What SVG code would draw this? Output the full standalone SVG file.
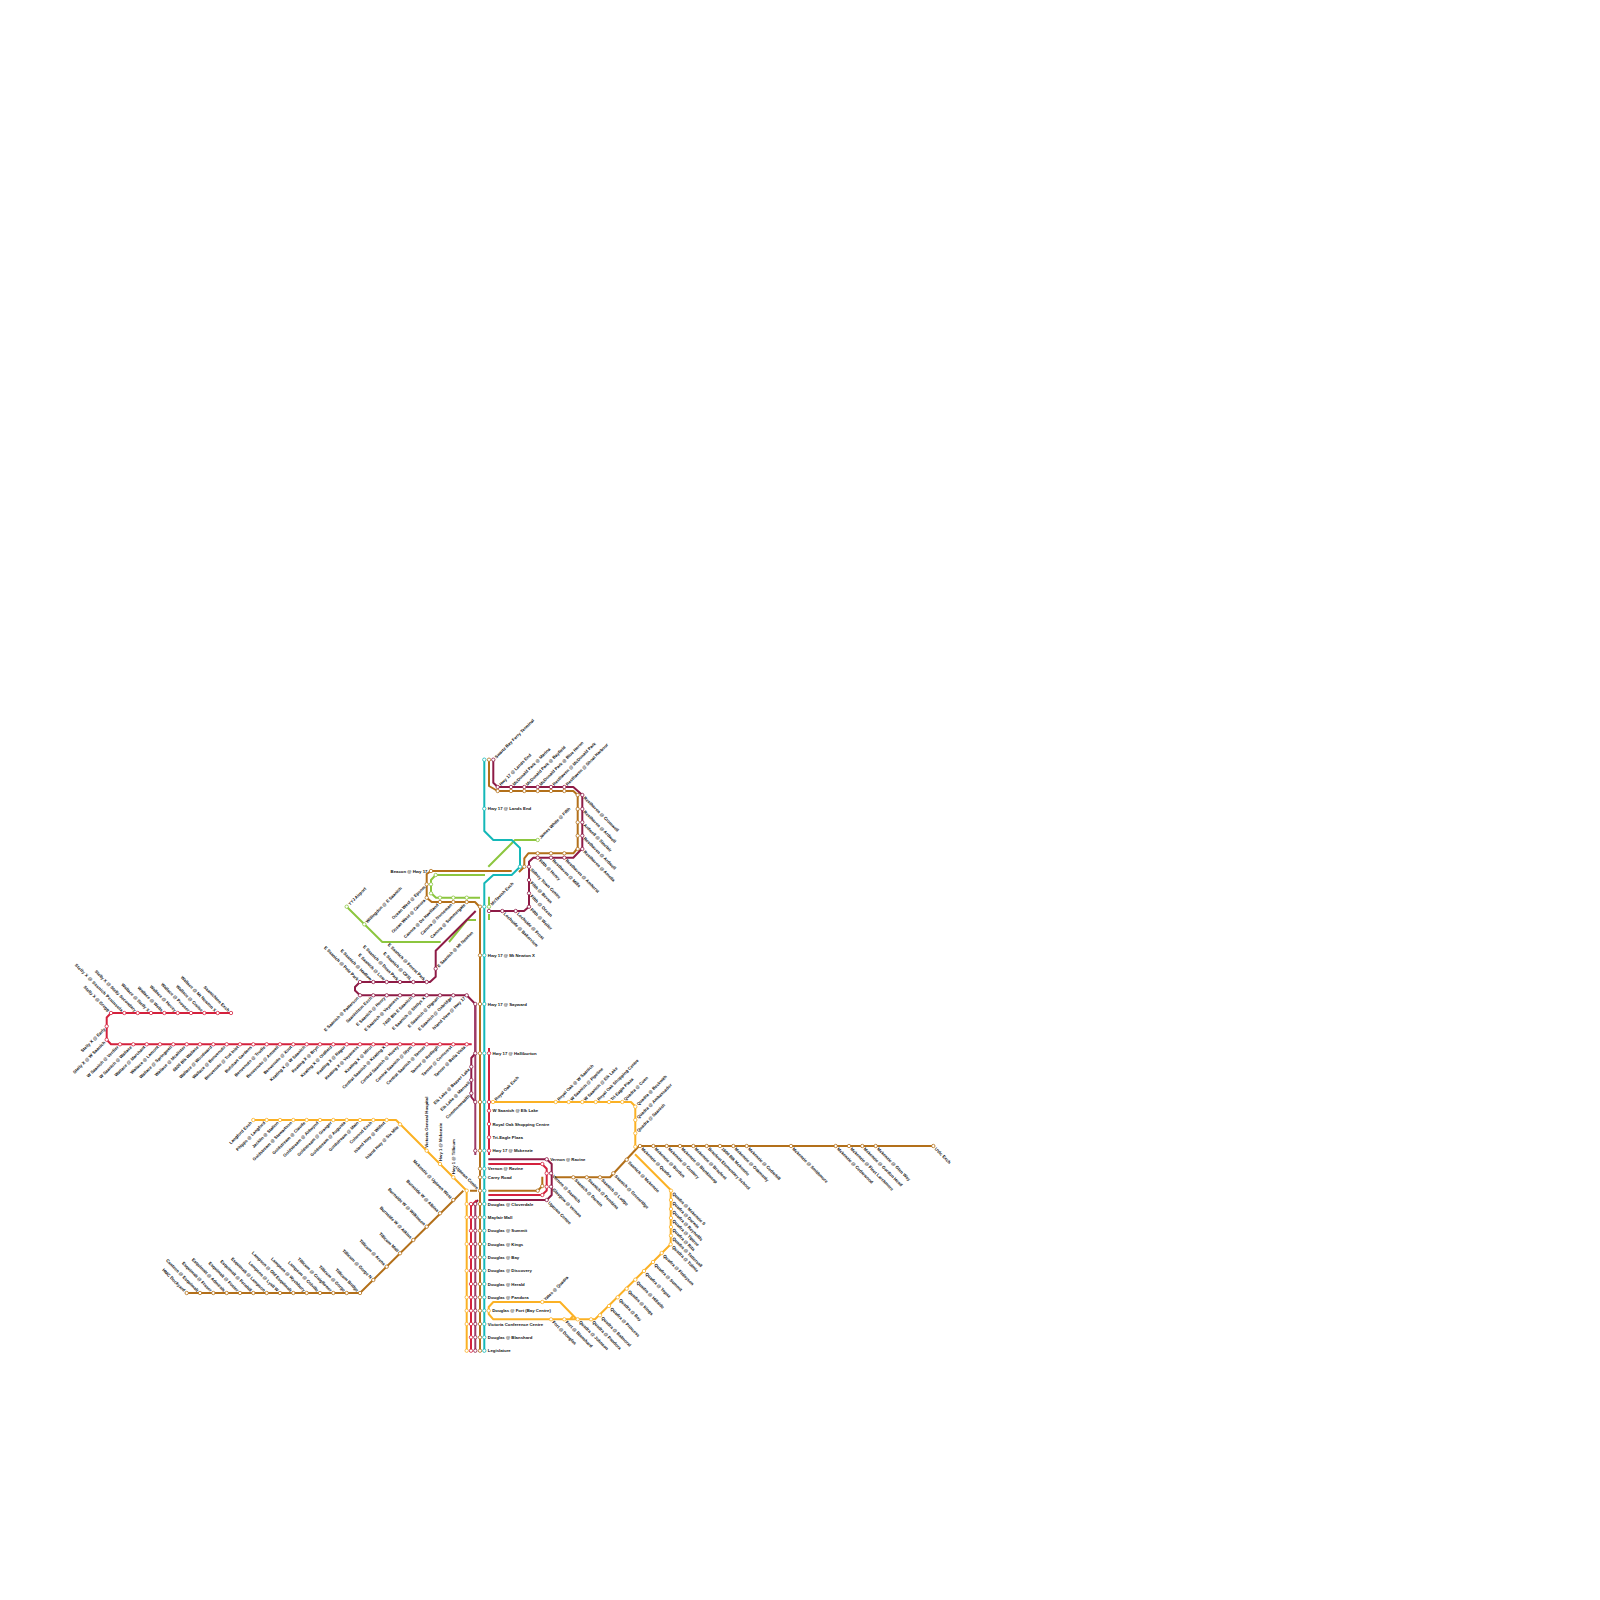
<svg xmlns="http://www.w3.org/2000/svg" width="1600" height="1600" viewBox="0 0 1600 1600">
<style>
text{font:bold 4.3px "Liberation Sans",Arial,sans-serif;fill:#111;dominant-baseline:central}
.dl{text-anchor:end;transform:rotate(-45deg) translateX(-3px)}
.ul{text-anchor:end;transform:rotate(45deg) translateX(-3px)}
.ur{transform:rotate(-45deg) translateX(3px)}
.dr{transform:rotate(45deg) translateX(3px)}
.h{transform:translateX(3.5px)}
.hl{text-anchor:end;transform:translateX(-3.5px)}
.v{transform:rotate(-90deg) translateX(3px)}
circle{r:1.7px;fill:#fff;stroke-width:.8}
path{fill:none;stroke-width:2;stroke-linejoin:round}
.R{stroke:#d4213d}.D{stroke:#8e1b46}.M{stroke:#9e3a66}.B{stroke:#b3701a}.T{stroke:#14b8b8}.Y{stroke:#fbb124}.G{stroke:#8cc63f}
</style>
<rect width="1600" height="1600" fill="#fff"/>
<g id="connectors">
<path class="G" d="M346.7 906.7L382.3 942H440.7M449 942L467 920H476M488.3 866.7L515 840H537.7M485 875H435.7L431 880V893L436 897.7H480M489 896.7V908M489 914V920"/>
<path class="R" d="M231 1013H111L106.7 1017.5V1039.7L111 1044.3H471.7"/>
<path class="D" d="M475.7 911L435.7 950.7V976.7L430 982H360L355 987V990.5L360 995.3H466.7L475.3 1004V1053.3L471.3 1058V1097L475.3 1102"/>
<path class="M" d="M475.3 1004V1155M475.3 1350.7V1203"/>
<path class="D" d="M475.3 1203L478 1200"/>
<path class="D" d="M493.3 759.7V782.7L497.7 787H573.3L582.3 795V848.3L573.3 857.7H533.3L529 861.7V906.7L524 911H489"/>
<path class="D" d="M488.3 1159.3H546.7L551.7 1164V1195L546.7 1200H488.3"/>
<path class="R" d="M488.3 1164H542L546.7 1168.7V1190.5L542 1195H488.3M489 1048V1155M471 1350.7V1206L476.5 1200.5"/>
<path class="B" d="M489 759.7V786L497.7 791H573.3L577.7 795V848L573.3 853.3H528.3L524.3 858.3V866.7L519 872M511.7 871H431L426.7 874V897.7L431.7 902H475L480 907.3V1350.7M470 1190.7H477M463.3 1190.7L360 1293H186.7M488.3 1190.7H537.7L542.3 1186V1176.7M555 1177.3H610L639 1146H933.3"/>
<path class="Y" d="M253.3 1120H396L466.7 1190.7V1350.7M493 1102H631L635.3 1106.5V1146.7M635 1154.3L670.7 1190V1244.3L595 1319.3H493.3L488.7 1314V1307L493.3 1302H560L576.7 1319.3M570 1319.3L574 1315"/>
<path class="T" d="M484.3 759.7V831L493.3 840H511.7L520 848V866.7L511.7 875H493.3L484.3 883.3V1350.7"/>
</g>
<g id="n1" transform="translate(111 1013)"><circle class="R"/><text class="ul">Stelly X @ Gregg</text></g>
<g id="n2" transform="translate(124.3 1013)"><circle class="R"/><text class="ul" textLength="66">Stelly X @ Saanich Peninsula</text></g>
<g id="n3" transform="translate(137.7 1013)"><circle class="R"/><text class="ul">Stelly X @ Stelly Secondary</text></g>
<g id="n4" transform="translate(151 1013)"><circle class="R"/><text class="ul">Wallace @ Stelly X</text></g>
<g id="n5" transform="translate(164.3 1013)"><circle class="R"/><text class="ul">Wallace @ Wells</text></g>
<g id="n6" transform="translate(177.7 1013)"><circle class="R"/><text class="ul">Wallace @ Hovey</text></g>
<g id="n7" transform="translate(191 1013)"><circle class="R"/><text class="ul">Wallace @ Prosser</text></g>
<g id="n8" transform="translate(204.3 1013)"><circle class="R"/><text class="ul">Wallace @ Cruise</text></g>
<g id="n9" transform="translate(217.7 1013)"><circle class="R"/><text class="ul">Wallace @ Mt Newton X</text></g>
<g id="n10" transform="translate(231 1013)"><circle class="R"/><text class="ul">Saanichton Exch</text></g>
<g id="n11" transform="translate(106.7 1026.3)"><circle class="R"/><text class="dl">Stelly X @ Early</text></g>
<g id="n12" transform="translate(106.7 1039.7)"><circle class="R"/><text class="dl">Stelly X @ W Saanich</text></g>
<g id="n13" transform="translate(120 1044.3)"><circle class="R"/><text class="dl">W Saanich @ Verdier</text></g>
<g id="n14" transform="translate(133.3 1044.3)"><circle class="R"/><text class="dl">W Saanich @ Wallace</text></g>
<g id="n15" transform="translate(146.7 1044.3)"><circle class="R"/><text class="dl">Wallace @ Marchant</text></g>
<g id="n16" transform="translate(160 1044.3)"><circle class="R"/><text class="dl">Wallace @ Lamont</text></g>
<g id="n17" transform="translate(173.3 1044.3)"><circle class="R"/><text class="dl">Wallace @ Springwell</text></g>
<g id="n18" transform="translate(186.7 1044.3)"><circle class="R"/><text class="dl">Wallace @ Mcalister</text></g>
<g id="n19" transform="translate(200 1044.3)"><circle class="R"/><text class="dl">6800 Blk Wallace</text></g>
<g id="n20" transform="translate(213.3 1044.3)"><circle class="R"/><text class="dl">Wallace @ Woodward</text></g>
<g id="n21" transform="translate(226.7 1044.3)"><circle class="R"/><text class="dl">Wallace @ Benvenuto</text></g>
<g id="n22" transform="translate(240 1044.3)"><circle class="R"/><text class="dl">Benvenuto @ Tod Inlet</text></g>
<g id="n23" transform="translate(253.3 1044.3)"><circle class="R"/><text class="dl">Butchart Gardens</text></g>
<g id="n24" transform="translate(266.7 1044.3)"><circle class="R"/><text class="dl">Benvenuto @ Trudie</text></g>
<g id="n25" transform="translate(280 1044.3)"><circle class="R"/><text class="dl">Benvenuto @ Amwell</text></g>
<g id="n26" transform="translate(293.3 1044.3)"><circle class="R"/><text class="dl">Benvenuto @ Xout</text></g>
<g id="n27" transform="translate(306.7 1044.3)"><circle class="R"/><text class="dl">Keating X @ W Saanich</text></g>
<g id="n28" transform="translate(320 1044.3)"><circle class="R"/><text class="dl">Keating X @ Bryn</text></g>
<g id="n29" transform="translate(333.3 1044.3)"><circle class="R"/><text class="dl">Keating X @ Oldfield</text></g>
<g id="n30" transform="translate(346.7 1044.3)"><circle class="R"/><text class="dl">Keating X @ Ragur</text></g>
<g id="n31" transform="translate(360 1044.3)"><circle class="R"/><text class="dl">Keating X @ Veyaness</text></g>
<g id="n32" transform="translate(373.3 1044.3)"><circle class="R"/><text class="dl">Keating X @ Mirol</text></g>
<g id="n33" transform="translate(386.7 1044.3)"><circle class="R"/><text class="dl">Central Saanich @ Keating X</text></g>
<g id="n34" transform="translate(400 1044.3)"><circle class="R"/><text class="dl">Central Saanich @ Hovey</text></g>
<g id="n35" transform="translate(413.3 1044.3)"><circle class="R"/><text class="dl">Central Saanich @ Stym</text></g>
<g id="n36" transform="translate(426.7 1044.3)"><circle class="R"/><text class="dl">Central Saanich @ Tanner</text></g>
<g id="n37" transform="translate(440 1044.3)"><circle class="R"/><text class="dl">Tanner @ Redlegh</text></g>
<g id="n38" transform="translate(453.3 1044.3)"><circle class="R"/><text class="dl">Tanner @ Corncrest</text></g>
<g id="n39" transform="translate(466.7 1044.3)"><circle class="R"/><text class="dl">Tanner @ Bella Vista</text></g>
<g id="n40" transform="translate(360 982)"><circle class="D"/><text class="ul">E Saanich @ Pole Park</text></g>
<g id="n41" transform="translate(373.3 982)"><circle class="D"/><text class="ul">E Saanich @ Hadlow</text></g>
<g id="n42" transform="translate(386.7 982)"><circle class="D"/><text class="ul">E Saanich @ Lear</text></g>
<g id="n43" transform="translate(400 982)"><circle class="D"/><text class="ul">E Saanich @ Dean Park</text></g>
<g id="n44" transform="translate(413.3 982)"><circle class="D"/><text class="ul">E Saanich @ CFSL</text></g>
<g id="n45" transform="translate(426.7 982)"><circle class="D"/><text class="ul">E Saanich @ Forest Park</text></g>
<g id="n46" transform="translate(435.7 968.7)"><circle class="D"/><text class="ur">E Saanich @ Mt Newton</text></g>
<g id="n47" transform="translate(360 995.3)"><circle class="D"/><text class="dl">E Saanich @ Patterson</text></g>
<g id="n48" transform="translate(373.3 995.3)"><circle class="D"/><text class="dl">Saanichton Exch</text></g>
<g id="n49" transform="translate(386.7 995.3)"><circle class="D"/><text class="dl">E Saanich @ Henry</text></g>
<g id="n50" transform="translate(400 995.3)"><circle class="D"/><text class="dl">E Saanich @ Veyaness</text></g>
<g id="n51" transform="translate(413.3 995.3)"><circle class="D"/><text class="dl">7400 Blk E Saanich</text></g>
<g id="n52" transform="translate(426.7 995.3)"><circle class="D"/><text class="dl">E Saanich @ Stellys X</text></g>
<g id="n53" transform="translate(440 995.3)"><circle class="D"/><text class="dl">E Saanich @ Dignan</text></g>
<g id="n54" transform="translate(453.3 995.3)"><circle class="D"/><text class="dl">E Saanich @ Oxbridge</text></g>
<g id="n55" transform="translate(466.7 995.3)"><circle class="D"/><text class="dl">Island View @ Hwy 17</text></g>
<g id="n56" transform="translate(346.7 906.7)"><circle class="G"/><text class="ur">YYJ Airport</text></g>
<g id="n57" transform="translate(364.3 924.3)"><circle class="G"/><text class="ur">Willingdon @ E Saanich</text></g>
<g id="n58" transform="translate(431 871)"><circle class="B"/><text class="hl">Beacon @ Hwy 17</text></g>
<g id="n59" transform="translate(435.7 875)"><circle class="G"/></g>
<g id="n60" transform="translate(426.7 884.3)"><circle class="B"/><circle class="G" cx="4.3"/><text class="dl">Ocean West @ Epsom</text></g>
<g id="n61" transform="translate(426.7 897.7)"><circle class="B"/><circle class="G" cx="4.3" cy="-4.4"/><text class="dl">Ocean West @ Canora</text></g>
<g id="n62" transform="translate(440 902)"><circle class="B"/><circle class="G" cy="-4.3"/><text class="dl">Canora @ De Havilland</text></g>
<g id="n63" transform="translate(453.3 902)"><circle class="B"/><circle class="G" cy="-4.3"/><text class="dl">Canora @ Norseman</text></g>
<g id="n64" transform="translate(466.7 902)"><circle class="B"/><circle class="G" cy="-4.3"/><text class="dl">Canora @ Summergate</text></g>
<g id="n65" transform="translate(489 906.7)"><circle class="B" cx="-9"/><circle class="T" cx="-4.7"/><circle class="G"/><text class="ur">McTavish Exch</text></g>
<g id="n66" transform="translate(484.3 955.3)"><circle class="B" cx="-4.3"/><circle class="T"/><text class="h">Hwy 17 @ Mt Newton X</text></g>
<g id="n67" transform="translate(484.3 1004)"><circle class="D" cx="-9"/><circle class="B" cx="-4.3"/><circle class="T"/><text class="h">Hwy 17 @ Sayward</text></g>
<g id="n68" transform="translate(489 1053.3)"><circle class="D" cx="-13.7"/><circle class="B" cx="-9"/><circle class="T" cx="-4.7"/><circle class="R"/><text class="h">Hwy 17 @ Halliburton</text></g>
<g id="n69" transform="translate(471.3 1066.7)"><circle class="D"/><text class="dl">Elk Lake @ Beaver Lake</text></g>
<g id="n70" transform="translate(471.3 1080)"><circle class="D"/><text class="dl">Elk Lake @ Mansell</text></g>
<g id="n71" transform="translate(471.3 1093.3)"><circle class="D"/><text class="dl">Commonwealth</text></g>
<g id="n72" transform="translate(493 1102)"><circle class="D" cx="-17.7"/><circle class="B" cx="-13"/><circle class="T" cx="-8.7"/><circle class="R" cx="-4"/><circle class="Y"/><text class="ur">Royal Oak Exch</text></g>
<g id="n73" transform="translate(489 1110.7)"><circle class="R"/><text class="h">W Saanich @ Elk Lake</text></g>
<g id="n74" transform="translate(489 1124)"><circle class="R"/><text class="h">Royal Oak Shopping Centre</text></g>
<g id="n75" transform="translate(489 1137.3)"><circle class="R"/><text class="h">Tri-Eagle Plaza</text></g>
<g id="n76" transform="translate(489 1150.7)"><circle class="D" cx="-13.7"/><circle class="B" cx="-9"/><circle class="T" cx="-4.7"/><circle class="R"/><text class="h">Hwy 17 @ Mckenzie</text></g>
<g id="n77" transform="translate(484.3 1168.7)"><circle class="B" cx="-4.3"/><circle class="T"/><text class="h">Vernon @ Ravine</text></g>
<g id="n78" transform="translate(484.3 1177.3)"><circle class="B" cx="-4.3"/><circle class="T"/><text class="h">Carey Road</text></g>
<g id="n79" transform="translate(480 1190.7)"><circle class="B"/><circle class="T" cx="4.3"/><text class="ul">Uptown Centre</text></g>
<g id="n80" transform="translate(484.3 1204)"><circle class="Y" cx="-17.6"/><circle class="R" cx="-13.3"/><circle class="D" cx="-9"/><circle class="B" cx="-4.3"/><circle class="T"/><text class="h">Douglas @ Cloverdale</text></g>
<g id="n81" transform="translate(484.3 1217.3)"><circle class="Y" cx="-17.6"/><circle class="R" cx="-13.3"/><circle class="D" cx="-9"/><circle class="B" cx="-4.3"/><circle class="T"/><text class="h">Mayfair Mall</text></g>
<g id="n82" transform="translate(484.3 1230.7)"><circle class="R" cx="-13.3"/><circle class="D" cx="-9"/><circle class="B" cx="-4.3"/><circle class="T"/><text class="h">Douglas @ Summit</text></g>
<g id="n83" transform="translate(484.3 1244)"><circle class="Y" cx="-17.6"/><circle class="R" cx="-13.3"/><circle class="D" cx="-9"/><circle class="B" cx="-4.3"/><circle class="T"/><text class="h">Douglas @ Kings</text></g>
<g id="n84" transform="translate(484.3 1257.3)"><circle class="R" cx="-13.3"/><circle class="D" cx="-9"/><circle class="B" cx="-4.3"/><circle class="T"/><text class="h">Douglas @ Bay</text></g>
<g id="n85" transform="translate(484.3 1270.7)"><circle class="Y" cx="-17.6"/><circle class="R" cx="-13.3"/><circle class="D" cx="-9"/><circle class="B" cx="-4.3"/><circle class="T"/><text class="h">Douglas @ Discovery</text></g>
<g id="n86" transform="translate(484.3 1284)"><circle class="R" cx="-13.3"/><circle class="D" cx="-9"/><circle class="B" cx="-4.3"/><circle class="T"/><text class="h">Douglas @ Herald</text></g>
<g id="n87" transform="translate(484.3 1297.3)"><circle class="Y" cx="-17.6"/><circle class="R" cx="-13.3"/><circle class="D" cx="-9"/><circle class="B" cx="-4.3"/><circle class="T"/><text class="h">Douglas @ Pandora</text></g>
<g id="n88" transform="translate(488.7 1310.7)"><circle class="Y" cx="-22"/><circle class="R" cx="-17.7"/><circle class="D" cx="-13.4"/><circle class="B" cx="-8.7"/><circle class="T" cx="-4.4"/><circle class="Y"/><text class="h">Douglas @ Fort (Bay Centre)</text></g>
<g id="n89" transform="translate(484.3 1324)"><circle class="Y" cx="-17.6"/><circle class="R" cx="-13.3"/><circle class="D" cx="-9"/><circle class="B" cx="-4.3"/><circle class="T"/><text class="h">Victoria Conference Centre</text></g>
<g id="n90" transform="translate(484.3 1337.3)"><circle class="R" cx="-13.3"/><circle class="D" cx="-9"/><circle class="B" cx="-4.3"/><circle class="T"/><text class="h">Douglas @ Blanshard</text></g>
<g id="n91" transform="translate(484.3 1350.7)"><circle class="Y" cx="-17.6"/><circle class="R" cx="-13.3"/><circle class="D" cx="-9"/><circle class="B" cx="-4.3"/><circle class="T"/><text class="h">Legislature</text></g>
<g id="n92" transform="translate(493.3 759.7)"><circle class="T" cx="-9"/><circle class="B" cx="-4.3"/><circle class="D"/><text class="ur">Swartz Bay Ferry Terminal</text></g>
<g id="n93" transform="translate(484.3 808.7)"><circle class="T"/><text class="h">Hwy 17 @ Lands End</text></g>
<g id="n94" transform="translate(497.7 787)"><circle class="D"/><circle class="B" cy="4"/><text class="ur">Hwy 17 @ Lands End</text></g>
<g id="n95" transform="translate(511 787)"><circle class="D"/><circle class="B" cy="4"/><text class="ur">McDonald Park @ Marina</text></g>
<g id="n96" transform="translate(524.3 787)"><circle class="D"/><circle class="B" cy="4"/><text class="ur">McDonald Park @ Bayfield</text></g>
<g id="n97" transform="translate(537.7 787)"><circle class="D"/><circle class="B" cy="4"/><text class="ur">McDonald Park @ Blue Heron</text></g>
<g id="n98" transform="translate(551 787)"><circle class="D"/><circle class="B" cy="4"/><text class="ur">Resthaven @ McDonald Park</text></g>
<g id="n99" transform="translate(564.3 787)"><circle class="D"/><circle class="B" cy="4"/><text class="ur">Resthaven @ Shoal Harbour</text></g>
<g id="n100" transform="translate(582.3 795)"><circle class="D"/><circle class="B" cx="-4.6"/><text class="dr">Resthaven @ Cromwell</text></g>
<g id="n101" transform="translate(582.3 809)"><circle class="D"/><circle class="B" cx="-4.6"/><text class="dr">Resthaven @ Ardwell</text></g>
<g id="n102" transform="translate(582.3 822.3)"><circle class="D"/><circle class="B" cx="-4.6"/><text class="dr">Ardwell @ Sinclair</text></g>
<g id="n103" transform="translate(582.3 835.7)"><circle class="D"/><circle class="B" cx="-4.6"/><text class="dr">Resthaven @ Ardwell</text></g>
<g id="n104" transform="translate(582.3 849)"><circle class="D"/><circle class="B" cx="-4.6"/><text class="dr">Resthaven @ Amelia</text></g>
<g id="n105" transform="translate(537.7 857.7)"><circle class="D"/><circle class="B" cy="-4.4"/><text class="dr">Fifth @ Henry</text></g>
<g id="n106" transform="translate(551 857.7)"><circle class="D"/><circle class="B" cy="-4.4"/><text class="dr">Resthaven @ Mills</text></g>
<g id="n107" transform="translate(564.3 857.7)"><circle class="D"/><circle class="B" cy="-4.4"/><text class="dr">Resthaven @ Amherst</text></g>
<g id="n108" transform="translate(529 866.7)"><circle class="T" cx="-9"/><circle class="B" cx="-4.7"/><circle class="D"/><text class="dr">Sidney Town Centre</text></g>
<g id="n109" transform="translate(529 880)"><circle class="D"/><text class="dr">Fifth @ Bevan</text></g>
<g id="n110" transform="translate(529 893.3)"><circle class="D"/><text class="dr">Fifth @ Ocean</text></g>
<g id="n111" transform="translate(529 906.7)"><circle class="D"/><text class="dr">Fifth @ Weiler</text></g>
<g id="n112" transform="translate(515.7 911)"><circle class="D"/><text class="dr">Lochside @ Frost</text></g>
<g id="n113" transform="translate(502.3 911)"><circle class="D"/><text class="dr">Lochside @ Bakerview</text></g>
<g id="n114" transform="translate(489 911)"><circle class="D"/></g>
<g id="n115" transform="translate(537.7 840)"><circle class="G"/><text class="ur">James White @ Fifth</text></g>
<g id="n116" transform="translate(546.7 1159.3)"><circle class="D"/><text class="h">Vernon @ Ravine</text></g>
<g id="n117" transform="translate(542.3 1164)"><circle class="R"/></g>
<g id="n118" transform="translate(551 1173.3)"><circle class="D"/><circle class="R" cx="-4.3"/><text class="dr">Vernon @ Saanich</text></g>
<g id="n119" transform="translate(551 1186.7)"><circle class="D"/><circle class="R" cx="-4.3"/><text class="dr">Glasgow @ Vernon</text></g>
<g id="n120" transform="translate(542.3 1195)"><circle class="R"/></g>
<g id="n121" transform="translate(546.7 1200)"><circle class="D"/><text class="dr">Uptown Centre</text></g>
<g id="n122" transform="translate(537.7 1190.7)"><circle class="B"/></g>
<g id="n123" transform="translate(542.3 1186)"><circle class="B"/></g>
<g id="n124" transform="translate(573.3 1177.3)"><circle class="B"/><text class="dr">Saanich @ Darwin</text></g>
<g id="n125" transform="translate(586.7 1177.3)"><circle class="B"/><text class="dr">Saanich @ Pembina</text></g>
<g id="n126" transform="translate(600 1177.3)"><circle class="B"/><text class="dr">Saanich @ Lodge</text></g>
<g id="n127" transform="translate(613.3 1173.3)"><circle class="B"/><text class="dr">Saanich @ Greenridge</text></g>
<g id="n128" transform="translate(626.7 1159.7)"><circle class="B"/><text class="dr">Saanich @ Mckenzie</text></g>
<g id="n129" transform="translate(640 1146)"><circle class="B"/><text class="dr">Mckenzie @ Quadra</text></g>
<g id="n130" transform="translate(653.3 1146)"><circle class="B"/><text class="dr">Mckenzie @ Borden</text></g>
<g id="n131" transform="translate(666.7 1146)"><circle class="B"/><text class="dr">Mckenzie @ Century</text></g>
<g id="n132" transform="translate(680 1146)"><circle class="B"/><text class="dr">Mckenzie @ Blenkinsop</text></g>
<g id="n133" transform="translate(693.3 1146)"><circle class="B"/><text class="dr">Mckenzie @ Braefoot</text></g>
<g id="n134" transform="translate(706.7 1146)"><circle class="B"/><text class="dr">Braefoot Elementary School</text></g>
<g id="n135" transform="translate(720 1146)"><circle class="B"/><text class="dr">1600 Blk Mckenzie</text></g>
<g id="n136" transform="translate(733.3 1146)"><circle class="B"/><text class="dr">Mckenzie @ Oakmanly</text></g>
<g id="n137" transform="translate(746.7 1146)"><circle class="B"/><text class="dr">Mckenzie @ Cedarhill</text></g>
<g id="n138" transform="translate(791 1146)"><circle class="B"/><text class="dr">Mckenzie @ Smithmore</text></g>
<g id="n139" transform="translate(835.7 1146)"><circle class="B"/><text class="dr">Mckenzie @ Cedarwood</text></g>
<g id="n140" transform="translate(849 1146)"><circle class="B"/><text class="dr">Mckenzie @ Fleet Larchmere</text></g>
<g id="n141" transform="translate(862.3 1146)"><circle class="B"/><text class="dr">Mckenzie @ Gordon Head</text></g>
<g id="n142" transform="translate(875.7 1146)"><circle class="B"/><text class="dr">Mckenzie @ Glen Way</text></g>
<g id="n143" transform="translate(933.3 1146)"><circle class="B"/><text class="dr">UVic Exch</text></g>
<g id="n144" transform="translate(555.7 1102)"><circle class="Y"/><text class="ur">Royal Oak @ W Saanich</text></g>
<g id="n145" transform="translate(568.7 1102)"><circle class="Y"/><text class="ur">W Saanich @ Pipeline</text></g>
<g id="n146" transform="translate(582.3 1102)"><circle class="Y"/><text class="ur">W Saanich @ Elk Lake</text></g>
<g id="n147" transform="translate(595.7 1102)"><circle class="Y"/><text class="ur">Royal Oak Shopping Centre</text></g>
<g id="n148" transform="translate(609 1102)"><circle class="Y"/><text class="ur">Tri-Eagle Plaza</text></g>
<g id="n149" transform="translate(622.3 1102)"><circle class="Y"/><text class="ur">Quadra @ Cuen</text></g>
<g id="n150" transform="translate(635.3 1106.7)"><circle class="Y"/><text class="ur">Quadra @ Beckwith</text></g>
<g id="n151" transform="translate(635.3 1120)"><circle class="Y"/><text class="ur">Quadra @ Ambassador</text></g>
<g id="n152" transform="translate(635.3 1133.3)"><circle class="Y"/><text class="ur">Quadra @ Saanich</text></g>
<g id="n153" transform="translate(635.3 1146.7)"><circle class="Y"/></g>
<g id="n154" transform="translate(671 1190.7)"><circle class="Y"/><text class="dr">Quadra @ Mckenzie S</text></g>
<g id="n155" transform="translate(671 1200)"><circle class="Y"/><text class="dr">Quadra @ Darwin</text></g>
<g id="n156" transform="translate(671 1209)"><circle class="Y"/><text class="dr">Quadra @ Reynolds</text></g>
<g id="n157" transform="translate(671 1218)"><circle class="Y"/><text class="dr">Quadra @ Tiptree</text></g>
<g id="n158" transform="translate(671 1227)"><circle class="Y"/><text class="dr">Quadra @ Rita</text></g>
<g id="n159" transform="translate(671 1235.7)"><circle class="Y"/><text class="dr">Quadra @ Tattersall</text></g>
<g id="n160" transform="translate(670.7 1244.3)"><circle class="Y"/><text class="dr">Quadra @ Tolmie</text></g>
<g id="n161" transform="translate(661.7 1253)"><circle class="Y"/><text class="dr">Quadra @ Finlayson</text></g>
<g id="n162" transform="translate(653 1262)"><circle class="Y"/><text class="dr">Quadra @ Summit</text></g>
<g id="n163" transform="translate(644 1271)"><circle class="Y"/><text class="dr">Quadra @ Topaz</text></g>
<g id="n164" transform="translate(635.3 1279.7)"><circle class="Y"/><text class="dr">Quadra @ Hillside</text></g>
<g id="n165" transform="translate(626.7 1288.7)"><circle class="Y"/><text class="dr">Quadra @ Kings</text></g>
<g id="n166" transform="translate(617.7 1297.3)"><circle class="Y"/><text class="dr">Quadra @ Bay</text></g>
<g id="n167" transform="translate(609 1306)"><circle class="Y"/><text class="dr">Quadra @ Princess</text></g>
<g id="n168" transform="translate(600 1315.3)"><circle class="Y"/><text class="dr">Quadra @ Balmoral</text></g>
<g id="n169" transform="translate(591 1319.3)"><circle class="Y"/><text class="dr">Quadra @ Pandora</text></g>
<g id="n170" transform="translate(577.7 1319.3)"><circle class="Y"/><text class="dr">Quadra @ Johnson</text></g>
<g id="n171" transform="translate(564.3 1319.3)"><circle class="Y"/><text class="dr">Fort @ Blanshard</text></g>
<g id="n172" transform="translate(551 1319.3)"><circle class="Y"/><text class="dr">Fort @ Douglas</text></g>
<g id="n173" transform="translate(542.3 1302)"><circle class="Y"/><text class="ur">Yates @ Quadra</text></g>
<g id="n174" transform="translate(253.3 1120)"><circle class="Y"/><text class="dl">Langford Exch</text></g>
<g id="n175" transform="translate(266.7 1120)"><circle class="Y"/><text class="dl">Phipps @ Langford</text></g>
<g id="n176" transform="translate(280 1120)"><circle class="Y"/><text class="dl">Jacklin @ Station</text></g>
<g id="n177" transform="translate(293.3 1120)"><circle class="Y"/><text class="dl">Goldstream @ Stewartson</text></g>
<g id="n178" transform="translate(306.7 1120)"><circle class="Y"/><text class="dl">Goldstream @ Claude</text></g>
<g id="n179" transform="translate(320 1120)"><circle class="Y"/><text class="dl">Goldstream @ Aldwynd</text></g>
<g id="n180" transform="translate(333.3 1120)"><circle class="Y"/><text class="dl">Goldstream @ Granger</text></g>
<g id="n181" transform="translate(346.7 1120)"><circle class="Y"/><text class="dl">Goldstream @ Augusta</text></g>
<g id="n182" transform="translate(360 1120)"><circle class="Y"/><text class="dl">Goldstream @ Main</text></g>
<g id="n183" transform="translate(373.3 1120)"><circle class="Y"/><text class="dl">Colwood Exch</text></g>
<g id="n184" transform="translate(386.7 1120)"><circle class="Y"/><text class="dl">Island Hwy @ Wilfert</text></g>
<g id="n185" transform="translate(400 1124.3)"><circle class="Y"/><text class="dl">Island Hwy @ Six Mile</text></g>
<g id="n186" transform="translate(426.7 1150.7)"><circle class="Y"/><text class="v">Victoria General Hospital</text></g>
<g id="n187" transform="translate(440 1164)"><circle class="Y"/><text class="v">Hwy 1 @ Mckenzie</text></g>
<g id="n188" transform="translate(453.3 1177.3)"><circle class="Y"/><text class="v">Hwy 1 @ Tillicum</text></g>
<g id="n189" transform="translate(466.7 1190.7)"><circle class="Y"/></g>
<g id="n190" transform="translate(453.3 1200)"><circle class="B"/><text class="ul">Mckenzie @ Uptown West</text></g>
<g id="n191" transform="translate(440 1213.3)"><circle class="B"/><text class="ul">Burnside W @ Albina</text></g>
<g id="n192" transform="translate(426.7 1226.7)"><circle class="B"/><text class="ul">Burnside W @ Wilkinson</text></g>
<g id="n193" transform="translate(413.3 1240)"><circle class="B"/><text class="ul">Burnside W @ Atkins</text></g>
<g id="n194" transform="translate(400 1253.3)"><circle class="B"/><text class="ul">Tillicum Mall</text></g>
<g id="n195" transform="translate(386.7 1266.7)"><circle class="B"/><text class="ul">Tillicum @ Arena</text></g>
<g id="n196" transform="translate(373.3 1280)"><circle class="B"/><text class="ul">Tillicum @ Gorge N</text></g>
<g id="n197" transform="translate(360 1293)"><circle class="B"/><text class="ul">Tillicum Bridge</text></g>
<g id="n198" transform="translate(346.7 1293)"><circle class="B"/><text class="ul">Tillicum @ Gorge</text></g>
<g id="n199" transform="translate(333.3 1293)"><circle class="B"/><text class="ul">Tillicum @ Craigflower</text></g>
<g id="n200" transform="translate(320 1293)"><circle class="B"/><text class="ul">Lampson @ Colville</text></g>
<g id="n201" transform="translate(306.7 1293)"><circle class="B"/><text class="ul">Lampson @ Wychbury</text></g>
<g id="n202" transform="translate(293.3 1293)"><circle class="B"/><text class="ul">Lampson @ Old Esquimalt</text></g>
<g id="n203" transform="translate(280 1293)"><circle class="B"/><text class="ul">Lampson @ Lyall W</text></g>
<g id="n204" transform="translate(266.7 1293)"><circle class="B"/><text class="ul">Esquimalt @ Lampson</text></g>
<g id="n205" transform="translate(253.3 1293)"><circle class="B"/><text class="ul">Esquimalt @ Fernhill</text></g>
<g id="n206" transform="translate(240 1293)"><circle class="B"/><text class="ul">Esquimalt @ Foster</text></g>
<g id="n207" transform="translate(226.7 1293)"><circle class="B"/><text class="ul">Esquimalt @ Admirals</text></g>
<g id="n208" transform="translate(213.3 1293)"><circle class="B"/><text class="ul">Esquimalt @ Fraser</text></g>
<g id="n209" transform="translate(200 1293)"><circle class="B"/><text class="ul">Canteen @ Esquimalt</text></g>
<g id="n210" transform="translate(186.7 1293)"><circle class="B"/><text class="ul">HMC Dockyard</text></g>
</svg>
